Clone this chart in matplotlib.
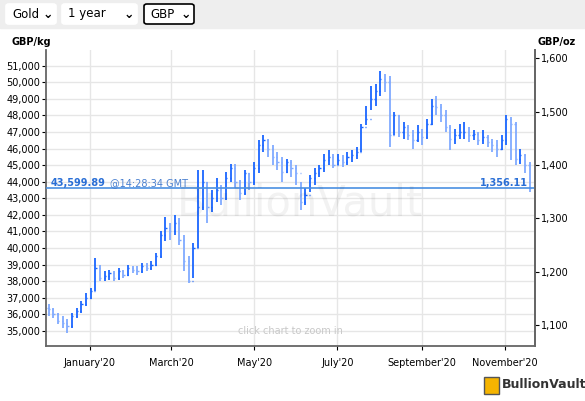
import matplotlib
matplotlib.use("Agg")
import matplotlib.pyplot as plt
import matplotlib.patches as mpatches
import pandas as pd
import numpy as np

closes_k = [36.3,36.0,35.6,35.5,35.3,35.9,36.2,36.6,37.0,37.4,
 38.8,38.2,38.3,38.5,38.2,38.6,38.4,38.8,38.7,
 38.6,38.9,38.8,39.0,39.5,40.8,41.2,41.0,
 41.5,40.5,39.2,38.0,40.0,42.5,44.0,42.5,43.0,
 43.5,43.0,44.2,44.8,44.0,43.3,44.5,44.0,44.8,
 46.2,46.5,46.0,45.5,45.2,44.6,45.2,44.8,44.5,
 42.8,43.2,44.2,44.5,44.8,45.3,45.5,45.0,
 45.3,45.2,45.5,45.6,45.8,47.3,47.8,49.0,49.5,
 50.2,50.0,46.8,48.0,47.0,47.3,46.8,46.5,47.0,
 46.7,47.5,48.6,48.5,48.0,47.3,46.6,46.8,47.0,
 47.0,46.8,46.9,46.5,46.7,46.4,46.2,46.0,46.5,
 47.8,47.5,45.4,45.6,45.0,43.6]
highs_k = [36.6,36.4,36.1,35.9,35.7,36.1,36.4,36.8,37.3,37.6,
 39.4,39.0,38.6,38.7,38.6,38.8,38.7,39.0,38.9,
 38.9,39.1,39.1,39.2,39.7,41.0,41.9,41.5,
 42.0,41.8,40.8,39.5,40.3,44.7,44.7,44.0,43.5,
 44.2,43.8,44.6,45.1,45.1,44.1,44.7,44.5,45.2,
 46.5,46.8,46.6,46.2,45.8,45.5,45.4,45.3,45.0,
 44.0,43.6,44.4,44.8,45.0,45.7,45.9,45.7,
 45.7,45.6,45.8,45.9,46.1,47.5,48.6,49.8,49.9,
 50.7,50.5,50.4,48.2,48.0,47.6,47.4,47.1,47.4,
 47.2,47.8,49.0,49.2,48.7,48.3,47.4,47.2,47.5,
 47.6,47.3,47.1,47.0,47.1,46.8,46.6,46.5,46.8,
 48.0,47.9,47.6,46.0,45.7,45.2]
lows_k = [35.9,35.8,35.4,35.2,34.9,35.2,35.8,36.1,36.5,36.9,
 37.4,38.0,38.0,38.1,38.0,38.1,38.2,38.3,38.5,
 38.4,38.5,38.6,38.7,38.9,39.4,40.4,40.5,
 40.8,40.2,38.6,37.9,38.2,40.0,42.3,41.5,42.2,
 42.8,42.6,42.9,44.0,43.6,42.9,43.2,43.5,43.8,
 44.5,45.8,45.5,45.0,44.7,44.0,44.5,44.3,43.8,
 42.3,42.6,43.4,43.8,44.3,44.6,45.0,44.8,
 45.0,44.9,45.0,45.2,45.4,45.8,47.4,48.3,48.6,
 49.2,49.4,46.1,46.8,46.7,46.6,46.5,46.0,46.4,
 46.2,46.6,47.4,48.0,47.6,47.0,45.9,46.3,46.6,
 46.6,46.4,46.5,46.2,46.3,46.1,45.8,45.5,45.9,
 46.2,45.3,45.0,45.1,44.5,43.4]
first_open_k = 36.4
last_price = 43599.89
last_price_oz = 1356.11
last_time = "14:28:34 GMT"
tick_dates = ["2020-01-01","2020-03-01","2020-05-01","2020-07-01","2020-09-01","2020-11-01"]
tick_labels = ["January'20","March'20","May'20","July'20","September'20","November'20"]
left_ticks = list(range(35000, 51001, 1000))
right_ticks = [1100, 1200, 1300, 1400, 1500, 1600]
OZ_PER_KG = 32.1507

closes = np.array(closes_k)*1000
highs = np.array(highs_k)*1000
lows = np.array(lows_k)*1000
opens = np.concatenate([[first_open_k*1000], closes[:-1]])
dates = pd.date_range("2019-12-02", "2020-11-19", periods=len(closes))
x = matplotlib.dates.date2num(dates)

fig = plt.figure(figsize=(5.85, 4.01), dpi=100)
fig.patches.append(mpatches.Rectangle((0, 1-28/401), 1, 28/401, transform=fig.transFigure, color="#eeeeee", zorder=0))
for (x0, w, lab, bold) in [(6, 50, "Gold", False), (62, 75, "1 year", False), (144, 50, "GBP", True)]:
    fig.patches.append(mpatches.FancyBboxPatch((x0/585, 1-24/401), w/585, 20/401, boxstyle="round,pad=0,rounding_size=0.005",
        transform=fig.transFigure, facecolor="white", edgecolor="black" if bold else "white", lw=1.2))
    fig.text((x0+6)/585, 1-14/401, lab, fontsize=8.5, va="center")
    fig.text((x0+w-8)/585, 1-14/401, "⌄", fontsize=9, va="center", ha="center", fontweight="bold")

ax = fig.add_axes([46/585, 1-346/401, (535-46)/585, (346-50)/401])
blue_dark = "#1a66ff"
blue_light = "#80aaff"
hw = 0.9
for xi, o, h, l, c in zip(x, opens, highs, lows, closes):
    col = blue_dark if c >= o else blue_light
    ax.vlines(xi, l, h, color=col, lw=1.3)
    ax.hlines(o, xi-hw, xi, color=col, lw=1)
    ax.hlines(c, xi, xi+hw, color=col, lw=1)

ax.axhline(last_price, color="#4a90e2", lw=1.2, zorder=3)
ax.set_ylim(34090, 51950)
ax.set_xlim(matplotlib.dates.date2num(pd.Timestamp("2019-11-30")), matplotlib.dates.date2num(pd.Timestamp("2020-11-23")))
ax.set_xticks(matplotlib.dates.date2num(pd.to_datetime(tick_dates)))
ax.set_xticklabels(tick_labels, fontsize=7)
ax.set_yticks(left_ticks)
ax.set_yticklabels([f"{v:,}" for v in left_ticks], fontsize=7)
ax.grid(True, color="#e6e6e6", lw=1)
ax.set_axisbelow(True)
ax.spines["top"].set_visible(False)
for s in ["left", "right", "bottom"]:
    ax.spines[s].set_color("#666666")
    ax.spines[s].set_linewidth(1.3)
ax.tick_params(axis="y", length=3, pad=1)
ax.tick_params(axis="x", length=3, pad=6)

ax2 = ax.twinx()
ax2.set_ylim(34090/OZ_PER_KG, 51950/OZ_PER_KG)
ax2.set_yticks(right_ticks)
ax2.set_yticklabels([f"{v:,}" for v in right_ticks], fontsize=7)
ax2.tick_params(axis="y", length=3, pad=1)
for s in ["top", "left", "bottom"]:
    ax2.spines[s].set_visible(False)
ax2.spines["right"].set_color("#666666")
ax2.spines["right"].set_linewidth(1.3)

ax.text(0.01, last_price+150, f"{last_price:,.2f}", color="#2a6fd6", fontsize=7, fontweight="bold", transform=ax.get_yaxis_transform())
ax.text(0.13, last_price+150, f"@{last_time}", color="#4a80d0", fontsize=7, transform=ax.get_yaxis_transform())
ax.text(0.985, last_price+150, f"{last_price_oz:,.2f}", color="#2a6fd6", fontsize=7, fontweight="bold", ha="right", transform=ax.get_yaxis_transform())
ax.text(0.52, 0.48, "BullionVault", fontsize=30, color="#000000", alpha=0.05, ha="center", va="center", transform=ax.transAxes)
ax.text(0.5, 0.05, "click chart to zoom in", fontsize=7, color="#c8c8c8", ha="center", va="center", transform=ax.transAxes)

fig.text(12/585, 1-42/401, "GBP/kg", fontsize=7, fontweight="bold", va="center")
fig.text(537/585, 1-42/401, "GBP/oz", fontsize=7, fontweight="bold", va="center")
fig.patches.append(mpatches.Rectangle((484/585, 1-394/401), 15/585, 17/401, transform=fig.transFigure, facecolor="#f5b400", edgecolor="#555555", lw=1))
fig.text(502/585, 1-385/401, "BullionVault", fontsize=9, fontweight="bold", color="#333333", va="center")

fig.savefig("out.png", dpi=100)
